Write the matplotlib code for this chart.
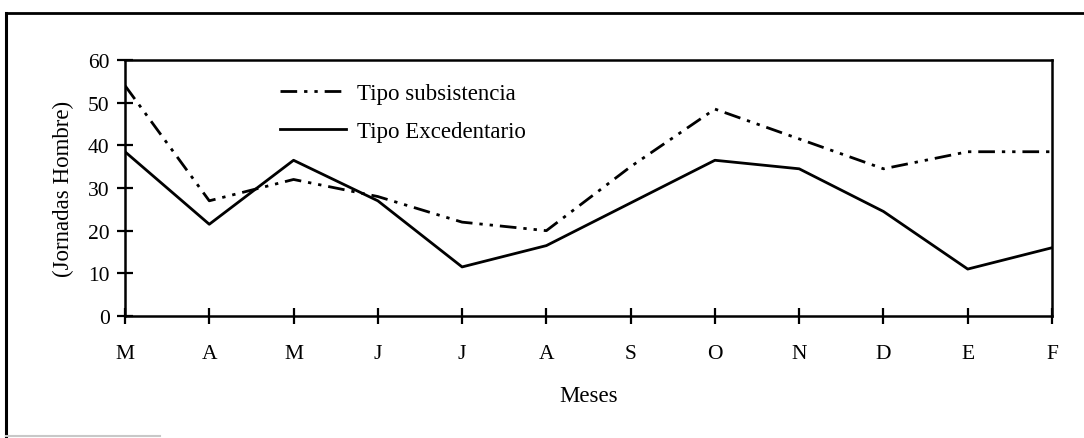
import matplotlib.pyplot as plt
from matplotlib.lines import Line2D

# Datos
meses = ["M", "A", "M", "J", "J", "A", "S", "O", "N", "D", "E", "F"]
subsistencia = [54, 27, 32, 28, 22, 20, 35, 48.5, 41.5, 34.5, 38.5, 38.5]
excedentario = [38.5, 21.5, 36.5, 27, 11.5, 16.5, 26.5, 36.5, 34.5, 24.5, 11, 16]
yticks = [0, 10, 20, 30, 40, 50, 60]

plt.rcParams['font.family'] = ['Liberation Serif', 'DejaVu Serif']

fig = plt.figure(figsize=(10.84, 4.39), dpi=100)
ax = fig.add_axes([125 / 1084, 1 - 317 / 439, (1052 - 125) / 1084, (317 - 61) / 439])

x = list(range(len(meses)))
ax.plot(x, subsistencia, color="black", lw=2,
        linestyle=(0, (6, 2.5, 1.2, 2.5, 1.2, 2.5)), label="Tipo subsistencia")
ax.plot(x, excedentario, color="black", lw=2, label="Tipo Excedentario")

ax.set_xlim(0, len(meses) - 1)
ax.set_ylim(0, 60)
ax.set_xticks(x)
ax.set_xticklabels(meses)
ax.set_yticks(yticks)

for s in ax.spines.values():
    s.set_linewidth(1.8)
ax.tick_params(axis="both", direction="inout", length=12, width=1.6, labelsize=15.5)
ax.tick_params(axis="x", pad=14)
ax.tick_params(axis="y", pad=5)

ax.set_xlabel("Meses", fontsize=16.5, labelpad=16)
ax.set_ylabel("(Jornadas Hombre)", fontsize=16.5, labelpad=10)

ax.legend(loc="upper left", bbox_to_anchor=(155 / 927, 0.91), frameon=False,
          fontsize=16.5, handlelength=2.9, handletextpad=0.45, labelspacing=0.72,
          borderaxespad=0, borderpad=0)

# Marco exterior de la figura
fig.add_artist(Line2D([6 / 1084, 6 / 1084], [1 - 437 / 439, 1 - 14 / 439],
                      transform=fig.transFigure, color="black", lw=2.2))
fig.add_artist(Line2D([6 / 1084, 1.0], [1 - 14 / 439, 1 - 14 / 439],
                      transform=fig.transFigure, color="black", lw=2))
fig.add_artist(Line2D([6 / 1084, 160 / 1084], [1 - 437 / 439, 1 - 437 / 439],
                      transform=fig.transFigure, color="#c8c8c8", lw=1.5))

fig.savefig("out.png", dpi=100)
